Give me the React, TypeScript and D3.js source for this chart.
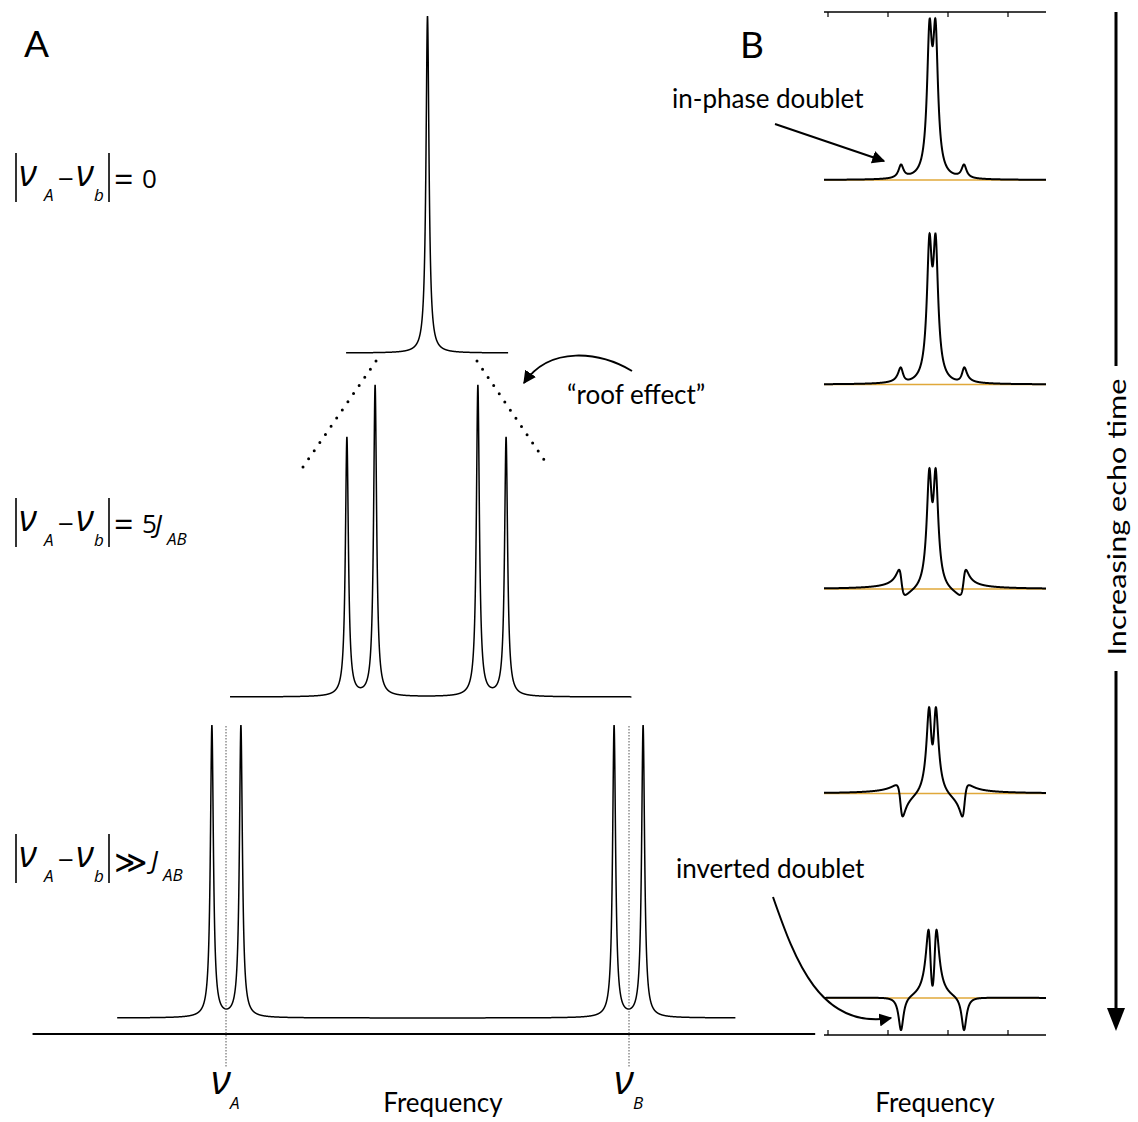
import React from "react";
import * as d3 from "d3";

const W = 1138;
const H = 1122;

// ---------- Panel A: AB spin system at three chemical-shift separations ----------
// Line frequencies in Hz relative to the centre of the pattern, amplitudes relative to the singlet.
const singletHz = [0];
const singletAmp = [1.0];
const strongHz = [-20.0, -13.0, 12.5, 19.5];
const strongAmp = [0.768, 0.923, 0.923, 0.768];
const weakHz = [-53.5, -46.3, 46.3, 53.5];
const weakAmp = [0.866, 0.866, 0.866, 0.866];
const shiftMarkHz = [-50, 50]; // nu_A, nu_B
const shiftMarkName = ["A", "B"];
const spanSingletHz = [-20.2, 20.0];
const spanStrongHz = [-49.0, 50.6];
const spanWeakHz = [-77.0, 76.4];
const axisSpanHz = [-98.0, 96.2];
const lineWidthAHz = 0.45;

// ---------- Panel B: strongly coupled doublet versus echo time ----------
const echoCentreHz = 17.42;
const echoInnerHz = [-0.5, 0.5];
const echoOuterHz = [-5.25, 5.25];
const echoInnerAmp = [0.82, 0.8, 0.69, 0.56, 0.54];
const echoInnerPhase = [0, 5, 10, 20, 39];
const echoOuterAmp = [0.08, 0.092, 0.16, 0.196, 0.21];
const echoOuterPhase = [0, 15, 67, 120, 180];
const echoTicksHz = [0, 10, 20, 30];
const echoSpanHz = [-0.667, 36.33];
const lineWidthBHz = 0.5;

type Line = { hz: number; amp: number; phase: number; side: number };

function spectrumValue(x: number, lines: Line[], gamma: number) {
  let s = 0;
  for (const l of lines) {
    const u = (x - l.hz) / gamma;
    const d = 1 + u * u;
    const absorption = 1 / d;
    const dispersion = (l.side * u) / d;
    const p = (l.phase * Math.PI) / 180;
    s += l.amp * (Math.cos(p) * absorption + Math.sin(p) * dispersion);
  }
  return s;
}

function spectrumPath(
  lines: Line[],
  gamma: number,
  span: number[],
  xs: d3.ScaleLinear<number, number>,
  ys: d3.ScaleLinear<number, number>,
  step: number
) {
  const pts: [number, number][] = d3
    .range(span[0], span[1] + step / 2, step)
    .map((x) => [x, spectrumValue(x, lines, gamma)]);
  return d3
    .line<[number, number]>()
    .x((d) => xs(d[0]))
    .y((d) => ys(d[1]))(pts) as string;
}

const mathFont = "'Open Sans', 'DejaVu Sans', sans-serif";
const symFont = "'DejaVu Sans', sans-serif";
const textFont = "Lato, 'Open Sans', sans-serif";

function AbsLabel({ dy, tail }: { dy: number; tail: React.ReactNode }) {
  return (
    <g transform={`translate(0,${dy})`} fill="#000">
      <line x1={16} x2={16} y1={153} y2={202} stroke="#000" strokeWidth={1.6} />
      <text x={19} y={186} fontFamily={mathFont} fontStyle="italic" fontSize={36}>ν</text>
      <text x={44} y={201} fontFamily={mathFont} fontStyle="italic" fontSize={17}>A</text>
      <text x={58} y={189} fontFamily={mathFont} fontSize={28}>−</text>
      <text x={76} y={186} fontFamily={mathFont} fontStyle="italic" fontSize={36}>ν</text>
      <text x={94} y={201} fontFamily={mathFont} fontStyle="italic" fontSize={17}>b</text>
      <line x1={109} x2={109} y1={153} y2={202} stroke="#000" strokeWidth={1.6} />
      {tail}
    </g>
  );
}

export default function App() {
  // Panel A scales
  const xA = d3.scaleLinear().domain([-50, 50]).range([226, 629]);
  const yAmpA = d3.scaleLinear().domain([0, 1]).range([0, 337]);
  const rowsA = [353, 697, 1018];
  const rowScale = (row: number) =>
    d3.scaleLinear().domain([0, 1]).range([rowsA[row], rowsA[row] - yAmpA(1)]);
  const mkA = (hz: number[], amp: number[]): Line[] =>
    hz.map((h, i) => ({ hz: h, amp: amp[i], phase: 0, side: h < 0 ? -1 : 1 }));

  const pathsA = [
    spectrumPath(mkA(singletHz, singletAmp), lineWidthAHz, spanSingletHz, xA, rowScale(0), 0.02),
    spectrumPath(mkA(strongHz, strongAmp), lineWidthAHz, spanStrongHz, xA, rowScale(1), 0.02),
    spectrumPath(mkA(weakHz, weakAmp), lineWidthAHz, spanWeakHz, xA, rowScale(2), 0.02),
  ];

  // Panel B scales
  const xB = d3.scaleLinear().domain([0, 30]).range([828, 1008]);
  const rowB = d3.scaleLinear().domain([0, 4]).range([180, 998]);
  const ampB = 163;
  const echoPaths = echoInnerAmp.map((_, i) => {
    const lines: Line[] = [
      ...echoInnerHz.map((h) => ({
        hz: echoCentreHz + h, amp: echoInnerAmp[i], phase: echoInnerPhase[i], side: h < 0 ? -1 : 1,
      })),
      ...echoOuterHz.map((h) => ({
        hz: echoCentreHz + h, amp: echoOuterAmp[i], phase: echoOuterPhase[i], side: h < 0 ? -1 : 1,
      })),
    ];
    const base = rowB(i);
    const ys = d3.scaleLinear().domain([0, 1]).range([base, base - ampB]);
    return { d: spectrumPath(lines, lineWidthBHz, echoSpanHz, xB, ys, 0.02), base };
  });

  // roof-effect guide dots
  const roofL = [[376, 361], [303, 467]];
  const roofR = [[477, 361], [549, 467]];

  return (
    <svg width={W} height={H} viewBox={`0 0 ${W} ${H}`}
      style={{ display: "block", position: "absolute", left: 0, top: 0 }}>
      <defs>
        <marker id="ah" viewBox="0 0 10 10" refX={9} refY={5} markerWidth={13} markerHeight={13}
          orient="auto-start-reverse" markerUnits="userSpaceOnUse">
          <path d="M0,0 L10,5 L0,10 z" fill="#000" />
        </marker>
      </defs>
      <rect width={W} height={H} fill="#fff" />

      {/* ---------------- Panel A ---------------- */}
      <text x={24} y={57} fontFamily={textFont} fontSize={37}>A</text>

      <AbsLabel dy={0} tail={
        <>
          <text x={114} y={192} fontFamily={mathFont} fontSize={34}>=</text>
          <text x={142} y={188} fontFamily={mathFont} fontSize={26}>0</text>
        </>
      } />
      <AbsLabel dy={345} tail={
        <>
          <text x={114} y={192} fontFamily={mathFont} fontSize={34}>=</text>
          <text x={142} y={188} fontFamily={mathFont} fontSize={26}>5</text>
          <text x={155} y={188} fontFamily={mathFont} fontStyle="italic" fontSize={26}>J</text>
          <text x={167} y={200} fontFamily={mathFont} fontStyle="italic" fontSize={17}>AB</text>
        </>
      } />
      <AbsLabel dy={681} tail={
        <>
          <text x={114} y={192} fontFamily={symFont} fontSize={32}>≫</text>
          <text x={151} y={188} fontFamily={mathFont} fontStyle="italic" fontSize={26}>J</text>
          <text x={163} y={200} fontFamily={mathFont} fontStyle="italic" fontSize={17}>AB</text>
        </>
      } />

      {pathsA.map((d, i) => (
        <path key={i} d={d} fill="none" stroke="#000" strokeWidth={1.5} />
      ))}

      {/* roof effect guide */}
      {[roofL, roofR].map((p, i) => (
        <line key={i} x1={p[0][0]} y1={p[0][1]} x2={p[1][0]} y2={p[1][1]} stroke="#000"
          strokeWidth={3} strokeLinecap="round" strokeDasharray="0 9.9" />
      ))}
      <path d="M632,371 C600,352 550,345 524,383" fill="none" stroke="#000" strokeWidth={2} markerEnd="url(#ah)" />
      <text x={567} y={404} fontFamily={textFont} fontSize={26}>“roof effect”</text>

      {/* frequency axis and shift markers */}
      <line x1={xA(axisSpanHz[0])} x2={xA(axisSpanHz[1])} y1={1034} y2={1034} stroke="#000" strokeWidth={2} />
      {shiftMarkHz.map((h, i) => (
        <g key={i}>
          <line x1={xA(h)} x2={xA(h)} y1={726} y2={1068} stroke="#555" strokeWidth={1} strokeDasharray="1.5 1.5" />
          <text x={xA(h) - 15} y={1094} fontFamily={mathFont} fontStyle="italic" fontSize={40}>ν</text>
          <text x={xA(h) + 4} y={1109} fontFamily={mathFont} fontStyle="italic" fontSize={17}>{shiftMarkName[i]}</text>
        </g>
      ))}
      <text x={443} y={1112} textAnchor="middle" fontFamily={textFont} fontSize={26}>Frequency</text>

      {/* ---------------- Panel B ---------------- */}
      <text x={740} y={58} fontFamily={textFont} fontSize={37}>B</text>

      {[12, 1035].map((y, k) => (
        <g key={k}>
          <line x1={824} x2={1046} y1={y} y2={y} stroke="#000" strokeWidth={1.5} />
          {echoTicksHz.map((t) => (
            <line key={t} x1={xB(t)} x2={xB(t)} y1={y} y2={k === 0 ? y + 5 : y - 5} stroke="#000" strokeWidth={1.2} />
          ))}
        </g>
      ))}

      {echoPaths.map((p, i) => (
        <g key={i}>
          <line x1={xB(echoSpanHz[0])} x2={xB(echoSpanHz[1])} y1={p.base} y2={p.base} stroke="#e0a83a" strokeWidth={1.5} />
          <path d={p.d} fill="none" stroke="#000" strokeWidth={2} />
        </g>
      ))}

      <text x={672} y={108} fontFamily={textFont} fontSize={26}>in-phase doublet</text>
      <line x1={775} y1={124} x2={884} y2={161} stroke="#000" strokeWidth={2} markerEnd="url(#ah)" />

      <text x={676} y={878} fontFamily={textFont} fontSize={26}>inverted doublet</text>
      <path d="M773,897 C795,960 820,1030 891,1018" fill="none" stroke="#000" strokeWidth={2} markerEnd="url(#ah)" />

      <text x={935} y={1112} textAnchor="middle" fontFamily={textFont} fontSize={26}>Frequency</text>

      {/* echo-time arrow */}
      <line x1={1116} x2={1116} y1={12} y2={366} stroke="#000" strokeWidth={3} />
      <line x1={1116} x2={1116} y1={671} y2={1012} stroke="#000" strokeWidth={3} />
      <path d="M1107,1008 L1125,1008 L1116,1031 z" fill="#000" />
      <text x={1116} y={517} transform="rotate(-90 1116 517)" textAnchor="middle" dominantBaseline="central"
        fontFamily={textFont} fontSize={25} textLength={277} lengthAdjust="spacingAndGlyphs">Increasing echo time</text>
    </svg>
  );
}
